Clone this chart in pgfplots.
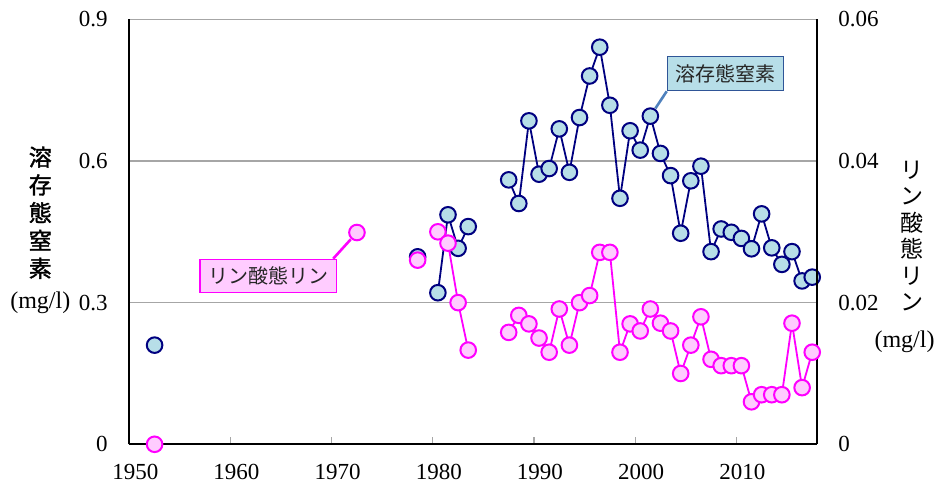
\documentclass[border=0pt]{standalone}
\usepackage{fontspec}
\setmainfont{Liberation Serif}
\newfontfamily\cjk{Noto Sans CJK JP}
\newfontfamily\cjkm[FakeBold=1.6]{Noto Sans CJK JP}
\usepackage{pgfplots}
\usepackage{pgfplotstable}
\pgfplotsset{compat=1.18}
\definecolor{navyN}{HTML}{000080}
\definecolor{fillN}{HTML}{B7DEE8}
\definecolor{magP}{HTML}{FF00FF}
\definecolor{fillP}{HTML}{FFCCFF}
\definecolor{gridc}{HTML}{A6A6A6}
\definecolor{boxedge}{HTML}{2F5597}
\definecolor{conn}{HTML}{4F81BD}

\pgfplotstableread{
year N
1952.5 0.210
nan nan
1978.5 0.397
nan nan
1980.5 0.321
1981.5 0.486
1982.5 0.415
1983.5 0.461
nan nan
1987.5 0.560
1988.5 0.510
1989.5 0.685
1990.5 0.572
1991.5 0.584
1992.5 0.668
1993.5 0.576
1994.5 0.692
1995.5 0.780
1996.5 0.841
1997.5 0.718
1998.5 0.521
1999.5 0.664
2000.5 0.623
2001.5 0.695
2002.5 0.616
2003.5 0.569
2004.5 0.447
2005.5 0.558
2006.5 0.589
2007.5 0.408
2008.5 0.456
2009.5 0.449
2010.5 0.436
2011.5 0.414
2012.5 0.488
2013.5 0.416
2014.5 0.381
2015.5 0.408
2016.5 0.346
2017.5 0.354
}\nitrogen

\pgfplotstableread{
year P
1952.5 0.0
nan nan
1972.5 0.0299
nan nan
1978.5 0.0260
nan nan
1980.5 0.0300
1981.5 0.0284
1982.5 0.0200
1983.5 0.0133
nan nan
1987.5 0.0158
1988.5 0.0182
1989.5 0.0170
1990.5 0.0150
1991.5 0.0130
1992.5 0.0191
1993.5 0.0140
1994.5 0.0200
1995.5 0.0210
1996.5 0.0271
1997.5 0.0271
1998.5 0.0130
1999.5 0.0170
2000.5 0.0160
2001.5 0.0191
2002.5 0.0171
2003.5 0.0160
2004.5 0.0100
2005.5 0.0140
2006.5 0.0180
2007.5 0.0120
2008.5 0.0111
2009.5 0.0111
2010.5 0.0111
2011.5 0.0060
2012.5 0.0070
2013.5 0.0070
2014.5 0.0070
2015.5 0.0171
2016.5 0.0080
2017.5 0.0130
}\phosphorus

\begin{document}
\begin{tikzpicture}[font=\fontsize{11.5}{13}\selectfont]
\begin{axis}[
  at={(0,0)}, anchor=south west,
  scale only axis, width=344pt, height=212.5pt,
  xmin=1950, xmax=2018, ymin=0, ymax=0.9,
  axis x line*=bottom, axis y line*=left,
  axis line style={-, black, line width=0.8pt},
  xtick={1950,1960,1970,1980,1990,2000,2010},
  xticklabels={1950,1960,1970,1980,1990,2000,2010},
  ytick={0,0.3,0.6,0.9},
  yticklabels={0,0.3,0.6,0.9},
  scaled ticks=false,
  xtick align=inside, major tick length=3.5pt,
  xtick style={gridc, line width=0.6pt},
  ytick style={draw=none},
  ymajorgrids, major grid style={gridc, line width=0.6pt},
  xticklabel style={anchor=center, yshift=-13.6pt, xshift=3pt, inner sep=0pt},
  yticklabel style={anchor=east, inner sep=0pt, xshift=-10.6pt},
  unbounded coords=jump,
  clip=false,
]
\addplot[navyN, line width=0.9pt, mark=*, mark size=3.9pt,
  mark options={fill=fillN, draw=navyN, line width=1pt}]
  table[x=year, y=N] {\nitrogen};
\coordinate (pN) at (axis cs:2001.5,0.695);
\end{axis}
\begin{axis}[
  at={(0,0)}, anchor=south west,
  scale only axis, width=344pt, height=212.5pt,
  xmin=1950, xmax=2018, ymin=0, ymax=0.06,
  axis x line=none, axis y line*=right,
  axis line style={-, black, line width=0.8pt},
  ytick={0,0.02,0.04,0.06},
  yticklabels={0,0.02,0.04,0.06},
  scaled ticks=false,
  ytick style={draw=none},
  yticklabel style={anchor=west, inner sep=0pt, xshift=10.4pt},
  unbounded coords=jump,
  clip=false,
]
\addplot[magP, line width=0.9pt, mark=*, mark size=3.9pt,
  mark options={fill=fillP, draw=magP, line width=1pt}]
  table[x=year, y=P] {\phosphorus};
\coordinate (pP) at (axis cs:1972.5,0.0299);
\end{axis}
% callouts
\node[draw=boxedge, fill=fillN, line width=0.6pt, minimum width=58pt, minimum height=17pt, inner sep=0pt,
  font=\cjk\fontsize{10}{12}\selectfont, text=black!85] (bN) at (298pt,185.3pt) {溶存態窒素};
\draw[conn, line width=1.3pt, shorten >=4.6pt] (bN.south west) -- (pN);
\node[draw=magP, fill=fillP, line width=0.6pt, minimum width=68.3pt, minimum height=16.7pt, inner sep=0pt,
  font=\cjk\fontsize{10}{12}\selectfont, text=black!85] (bP) at (69.5pt,84.15pt) {リン酸態リン};
\draw[magP, line width=1.3pt, shorten >=4.6pt] ([xshift=-2pt]bP.north east) -- (pP);
% axis titles
\node[font=\cjkm\fontsize{11.5}{13.9}\selectfont, align=center, inner sep=0pt] at (-44.5pt,115.8pt)
  {溶\\存\\態\\窒\\素};
\node[font=\fontsize{12}{14}\selectfont, inner sep=0pt] at (-44.5pt,70.6pt) {(mg/l)};
\node[font=\cjk\fontsize{11.5}{13.25}\selectfont, align=center, inner sep=0pt] at (391.2pt,104.2pt)
  {リ\\ン\\酸\\態\\リ\\ン};
\node[font=\fontsize{12}{14}\selectfont, inner sep=0pt] at (387.6pt,51.2pt) {(mg/l)};
\pgfresetboundingbox
\path[use as bounding box] (-64.65pt,-21.35pt) rectangle (404.35pt,222.15pt);
\end{tikzpicture}
\end{document}
